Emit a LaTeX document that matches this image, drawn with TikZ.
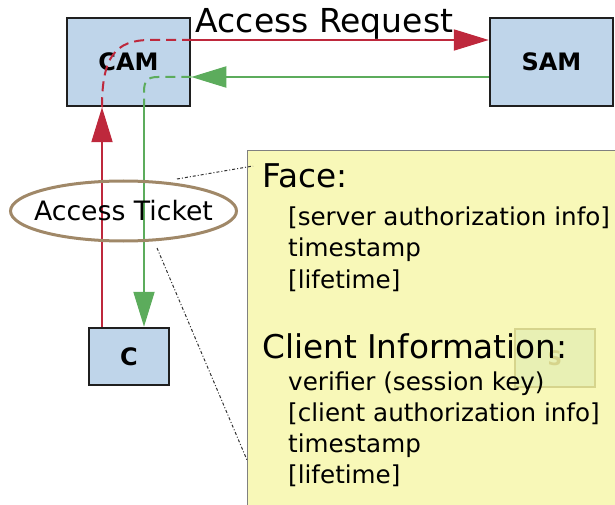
\documentclass[tikz,border=0pt]{standalone}
\usepackage{fontspec}
\setmainfont{DejaVu Sans}
\usetikzlibrary{arrows.meta,shapes.geometric}
\definecolor{reqred}{RGB}{190,40,60}
\definecolor{respgreen}{RGB}{92,172,92}
\definecolor{partyblue}{RGB}{191,213,234}
\definecolor{noteyellow}{RGB}{248,248,184}
\definecolor{ticketbrown}{RGB}{160,136,104}
\definecolor{sealfill}{RGB}{232,240,180}
\definecolor{sealedge}{RGB}{214,212,140}
\tikzset{
  party/.style={draw=black!88, line width=2.5pt, fill=partyblue,
    minimum width=123pt, minimum height=88pt, inner sep=0pt,
    font=\fontsize{24}{28}\selectfont\bfseries},
  tip/.style={-{Triangle[length=35pt,width=21pt]}},
  reqline/.style={draw=reqred, line width=2pt},
  respline/.style={draw=respgreen, line width=2pt},
  inside/.style={dash pattern=on 10pt off 6pt},
  callout/.style={draw=black!80, line width=1pt, dash dot},
  head/.style={anchor=base west, inner sep=0pt, font=\fontsize{32.7}{38}\selectfont},
  item/.style={anchor=base west, inner sep=0pt, font=\fontsize{24.6}{29}\selectfont}
}
\begin{document}
\begin{tikzpicture}[x=1pt, y=-1pt]
\useasboundingbox (0,0) rectangle (615,505);
% ticket contents
\node[draw=black!50, line width=1.2pt, fill=noteyellow, anchor=north west,
  minimum width=380pt, minimum height=370pt] (note) at (247,150) {};
\node[draw=sealedge, line width=1.5pt, fill=sealfill, anchor=north west,
  minimum width=80pt, minimum height=58pt, text=sealedge,
  font=\fontsize{20}{20}\selectfont\bfseries] (seal) at (514,328) {S};
\node[head] (face) at (262,187) {Face:};
\node[item] (srvinfo) at (288,225) {[server authorization info]};
\node[item] (facets) at (288,256.5) {timestamp};
\node[item] (facelt) at (288,288) {[lifetime]};
\node[head] (client) at (262,358) {Client Information:};
\node[item] (verifier) at (288,390) {verifier (session key)};
\node[item] (clinfo) at (288,421.5) {[client authorization info]};
\node[item] (clts) at (288,452) {timestamp};
\node[item] (cllt) at (288,483) {[lifetime]};

% parties
\node[party] (cam) at (128.5,62) {CAM};
\node[party] (sam) at (551.5,62) {SAM};
\node[party, minimum width=80pt, minimum height=57pt] (c) at (129,356.5) {C};

\coordinate (redx) at (102,0);
\coordinate (greenx) at (144,0);
\coordinate (reqy) at (0,40);
\coordinate (respy) at (0,77);

% request
\draw[reqline, tip] (c.north -| redx) -- (cam.south -| redx);
\draw[reqline, inside] (cam.south -| redx) .. controls +(0,-50) and +(-35,0) .. (150,40) -- (cam.east |- reqy);
\draw[reqline, tip] (cam.east |- reqy) -- (sam.west |- reqy);
\node[anchor=base, inner sep=0pt, font=\fontsize{33}{38}\selectfont] (req) at (324.5,33) {Access Request};

% response
\draw[respline, tip] (sam.west |- respy) -- (cam.east |- respy);
\draw[respline, inside] (cam.east |- respy) -- (158,77) .. controls (147,77) and (144,81) .. (144,92) -- (cam.south -| greenx);
\draw[respline, tip] (cam.south -| greenx) -- (c.north -| greenx);

% ticket
\node[ellipse, draw=ticketbrown, line width=3pt, minimum width=226pt, minimum height=60pt,
  inner xsep=-12pt, inner ysep=0pt, font=\fontsize{26.7}{30}\selectfont] (ticket) at (123.5,211) {Access Ticket};
\coordinate (fromA) at (177,179);
\coordinate (toA) at (253,166);
\coordinate (fromB) at (157,248);
\coordinate (toB) at (247,460);
\draw[callout] (fromA) -- (toA);
\draw[callout] (fromB) -- (toB);
\end{tikzpicture}
\end{document}
